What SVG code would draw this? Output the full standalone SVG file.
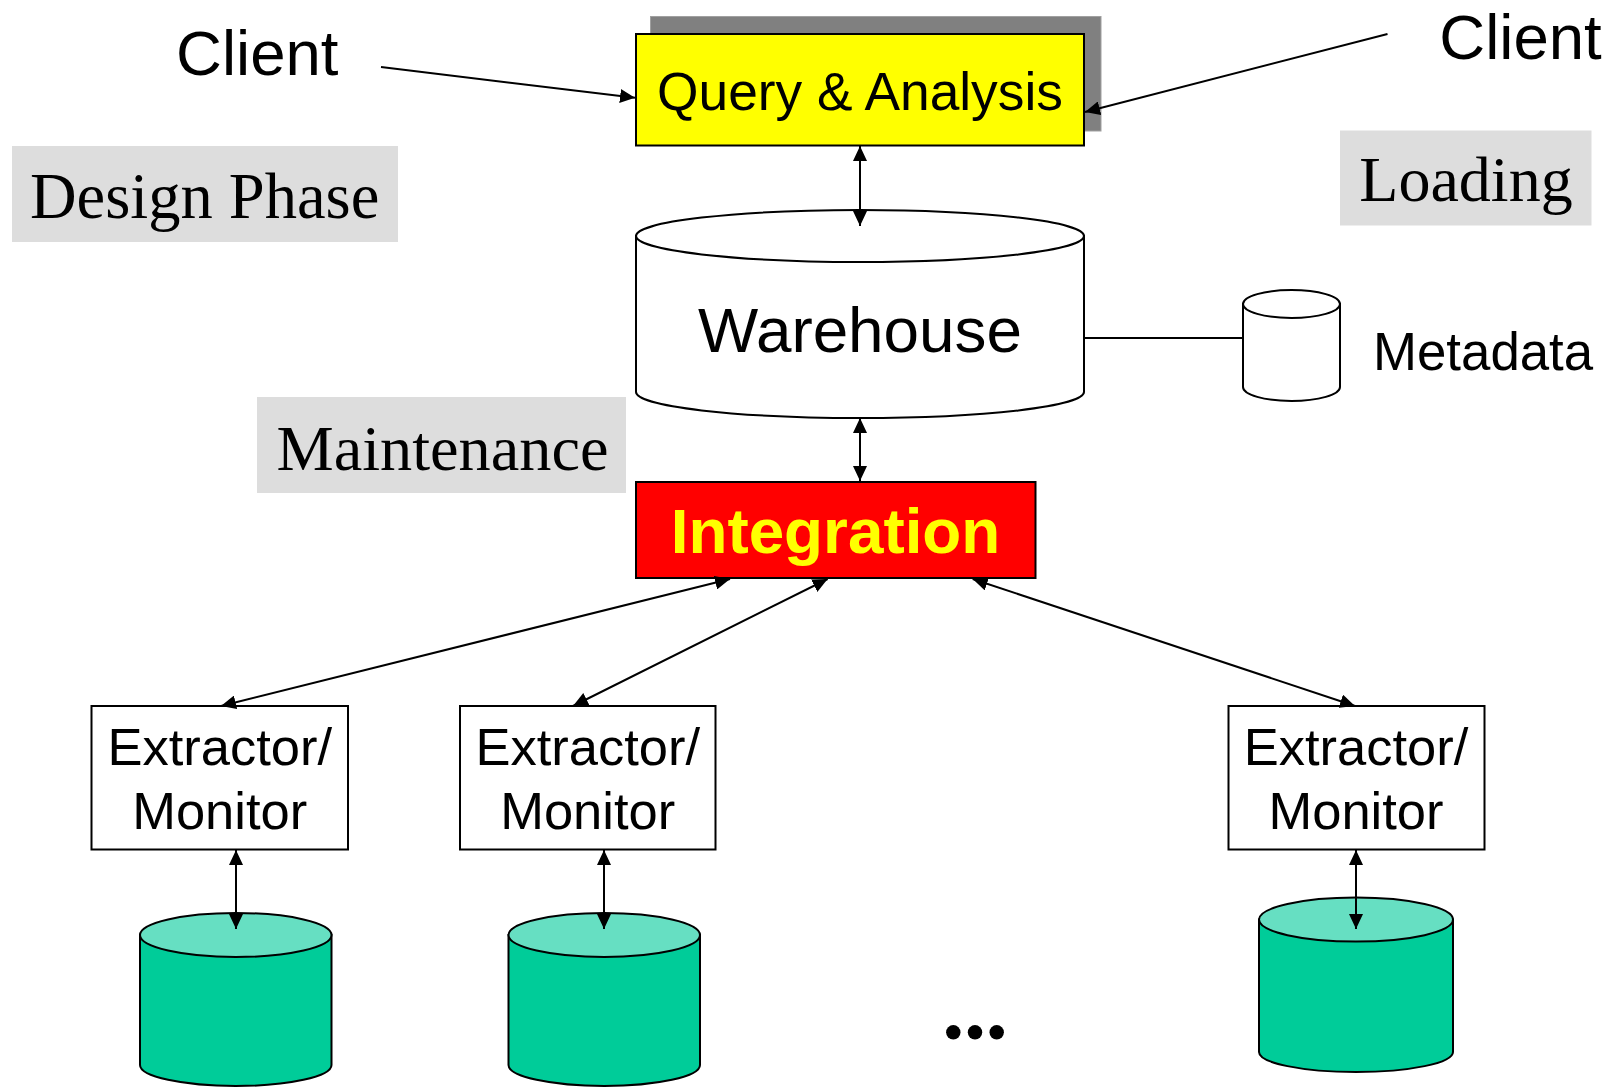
<svg xmlns="http://www.w3.org/2000/svg" width="1614" height="1088" viewBox="0 0 1614 1088">
  <defs>
    <marker id="ah" viewBox="0 0 15 14" refX="15" refY="7" markerWidth="15" markerHeight="14" orient="auto-start-reverse" markerUnits="userSpaceOnUse">
      <path d="M0,0 L15,7 L0,14 z" fill="#000"/>
    </marker>
  </defs>
  <style>
    .sans { font-family: "Liberation Sans", Arial, sans-serif; fill: #000; }
    .serif { font-family: "Liberation Serif", "Times New Roman", serif; fill: #000; }
    .box { stroke: #000; stroke-width: 2; }
    .phase { fill: #DDDDDD; }
    .conn { stroke: #000; stroke-width: 2; fill: none; }
    .arrow1 { marker-end: url(#ah); }
    .arrow2 { marker-start: url(#ah); marker-end: url(#ah); }
    .cyl { stroke: #000; stroke-width: 2; }
    .src-body { fill: #00CC99; }
    .src-top { fill: #66DFC2; }
  </style>

  <rect width="1614" height="1088" fill="#fff"/>

  <!-- phase labels -->
  <g id="design-phase">
    <rect class="phase" x="12" y="146" width="386" height="96"/>
    <text class="serif" x="204.7" y="217.5" font-size="64.5" text-anchor="middle">Design Phase</text>
  </g>
  <g id="maintenance">
    <rect class="phase" x="257" y="397" width="369" height="96"/>
    <text class="serif" x="442.5" y="470" font-size="64.3" text-anchor="middle">Maintenance</text>
  </g>
  <g id="loading">
    <rect class="phase" x="1340" y="130.5" width="251.5" height="95"/>
    <text class="serif" x="1466" y="200.7" font-size="64" text-anchor="middle">Loading</text>
  </g>

  <!-- clients -->
  <g id="client-left">
    <text class="sans" x="257.3" y="75" font-size="63.5" text-anchor="middle">Client</text>
  </g>
  <g id="client-right">
    <text class="sans" x="1520.5" y="58.5" font-size="63.5" text-anchor="middle">Client</text>
  </g>

  <!-- query & analysis with drop shadow -->
  <g id="query-analysis">
    <rect x="650.5" y="16.5" width="450.5" height="114.5" fill="#808080" stroke="#A0A0A0" stroke-width="1"/>
    <rect class="box" x="636" y="34" width="448" height="111.5" fill="#FFFF00"/>
    <text class="sans" x="860" y="110" font-size="53.3" text-anchor="middle">Query &amp; Analysis</text>
  </g>

  <!-- warehouse cylinder -->
  <g id="warehouse">
    <path class="cyl" fill="#fff" d="M636,236 L636,392 A224,26 0 0 0 1084,392 L1084,236 Z"/>
    <ellipse class="cyl" fill="#fff" cx="860" cy="236" rx="224" ry="26"/>
    <text class="sans" x="860" y="351.7" font-size="63.8" text-anchor="middle">Warehouse</text>
  </g>

  <!-- metadata cylinder -->
  <g id="metadata">
    <path class="cyl" fill="#fff" d="M1243,304 L1243,387 A48.5,14 0 0 0 1340,387 L1340,304 Z"/>
    <ellipse class="cyl" fill="#fff" cx="1291.5" cy="304" rx="48.5" ry="14"/>
    <text class="sans" x="1373" y="370" font-size="52.8">Metadata</text>
  </g>

  <!-- integration -->
  <g id="integration">
    <rect class="box" x="636" y="482" width="399.5" height="96" fill="#FF0000"/>
    <text class="sans" x="835.5" y="553" font-size="63.8" font-weight="bold" text-anchor="middle" style="fill:#FFFF00">Integration</text>
  </g>

  <!-- extractor / monitor boxes -->
  <g id="extractor-1">
    <rect class="box" x="91.5" y="706" width="256.5" height="143.5" fill="#fff"/>
    <text class="sans" x="219.7" y="765.4" font-size="52.5" text-anchor="middle">Extractor/</text>
    <text class="sans" x="219.7" y="829.4" font-size="52.5" text-anchor="middle">Monitor</text>
  </g>
  <g id="extractor-2">
    <rect class="box" x="460" y="706" width="255.5" height="143.5" fill="#fff"/>
    <text class="sans" x="587.7" y="765.4" font-size="52.5" text-anchor="middle">Extractor/</text>
    <text class="sans" x="587.7" y="829.4" font-size="52.5" text-anchor="middle">Monitor</text>
  </g>
  <g id="extractor-3">
    <rect class="box" x="1228.5" y="706" width="256" height="143.5" fill="#fff"/>
    <text class="sans" x="1356" y="765.4" font-size="52.5" text-anchor="middle">Extractor/</text>
    <text class="sans" x="1356" y="829.4" font-size="52.5" text-anchor="middle">Monitor</text>
  </g>

  <!-- source databases -->
  <g id="source-1">
    <path class="cyl src-body" d="M140,935 L140,1065 A95.75,21 0 0 0 331.5,1065 L331.5,935 Z"/>
    <ellipse class="cyl src-top" cx="235.75" cy="935" rx="95.75" ry="22"/>
  </g>
  <g id="source-2">
    <path class="cyl src-body" d="M508.5,935 L508.5,1065 A95.75,21 0 0 0 700,1065 L700,935 Z"/>
    <ellipse class="cyl src-top" cx="604.25" cy="935" rx="95.75" ry="22"/>
  </g>
  <g id="source-3">
    <path class="cyl src-body" d="M1259,919.6 L1259,1052 A97,20 0 0 0 1453,1052 L1453,919.6 Z"/>
    <ellipse class="cyl src-top" cx="1356" cy="919.6" rx="97" ry="22"/>
  </g>

  <!-- ellipsis between sources -->
  <g id="more-sources" fill="#000">
    <circle cx="953.3" cy="1032.3" r="7.2"/>
    <circle cx="975" cy="1032.3" r="7.2"/>
    <circle cx="996.7" cy="1032.3" r="7.2"/>
  </g>

  <!-- connectors -->
  <g id="connectors">
    <line class="conn arrow1" x1="381" y1="67" x2="635" y2="97.8"/>
    <line class="conn arrow1" x1="1387.5" y1="34" x2="1085" y2="112"/>
    <line class="conn arrow2" x1="860" y1="146" x2="860" y2="226"/>
    <line class="conn arrow2" x1="860" y1="418" x2="860" y2="481"/>
    <line class="conn" x1="1084" y1="338" x2="1243" y2="338"/>
    <line class="conn arrow2" x1="730" y1="579" x2="221" y2="706"/>
    <line class="conn arrow2" x1="827.6" y1="579" x2="573" y2="706"/>
    <line class="conn arrow2" x1="972.7" y1="579" x2="1355" y2="706"/>
    <line class="conn arrow2" x1="236" y1="850" x2="236" y2="929"/>
    <line class="conn arrow2" x1="604" y1="850" x2="604" y2="929"/>
    <line class="conn arrow2" x1="1356" y1="850" x2="1356" y2="929"/>
  </g>
</svg>
